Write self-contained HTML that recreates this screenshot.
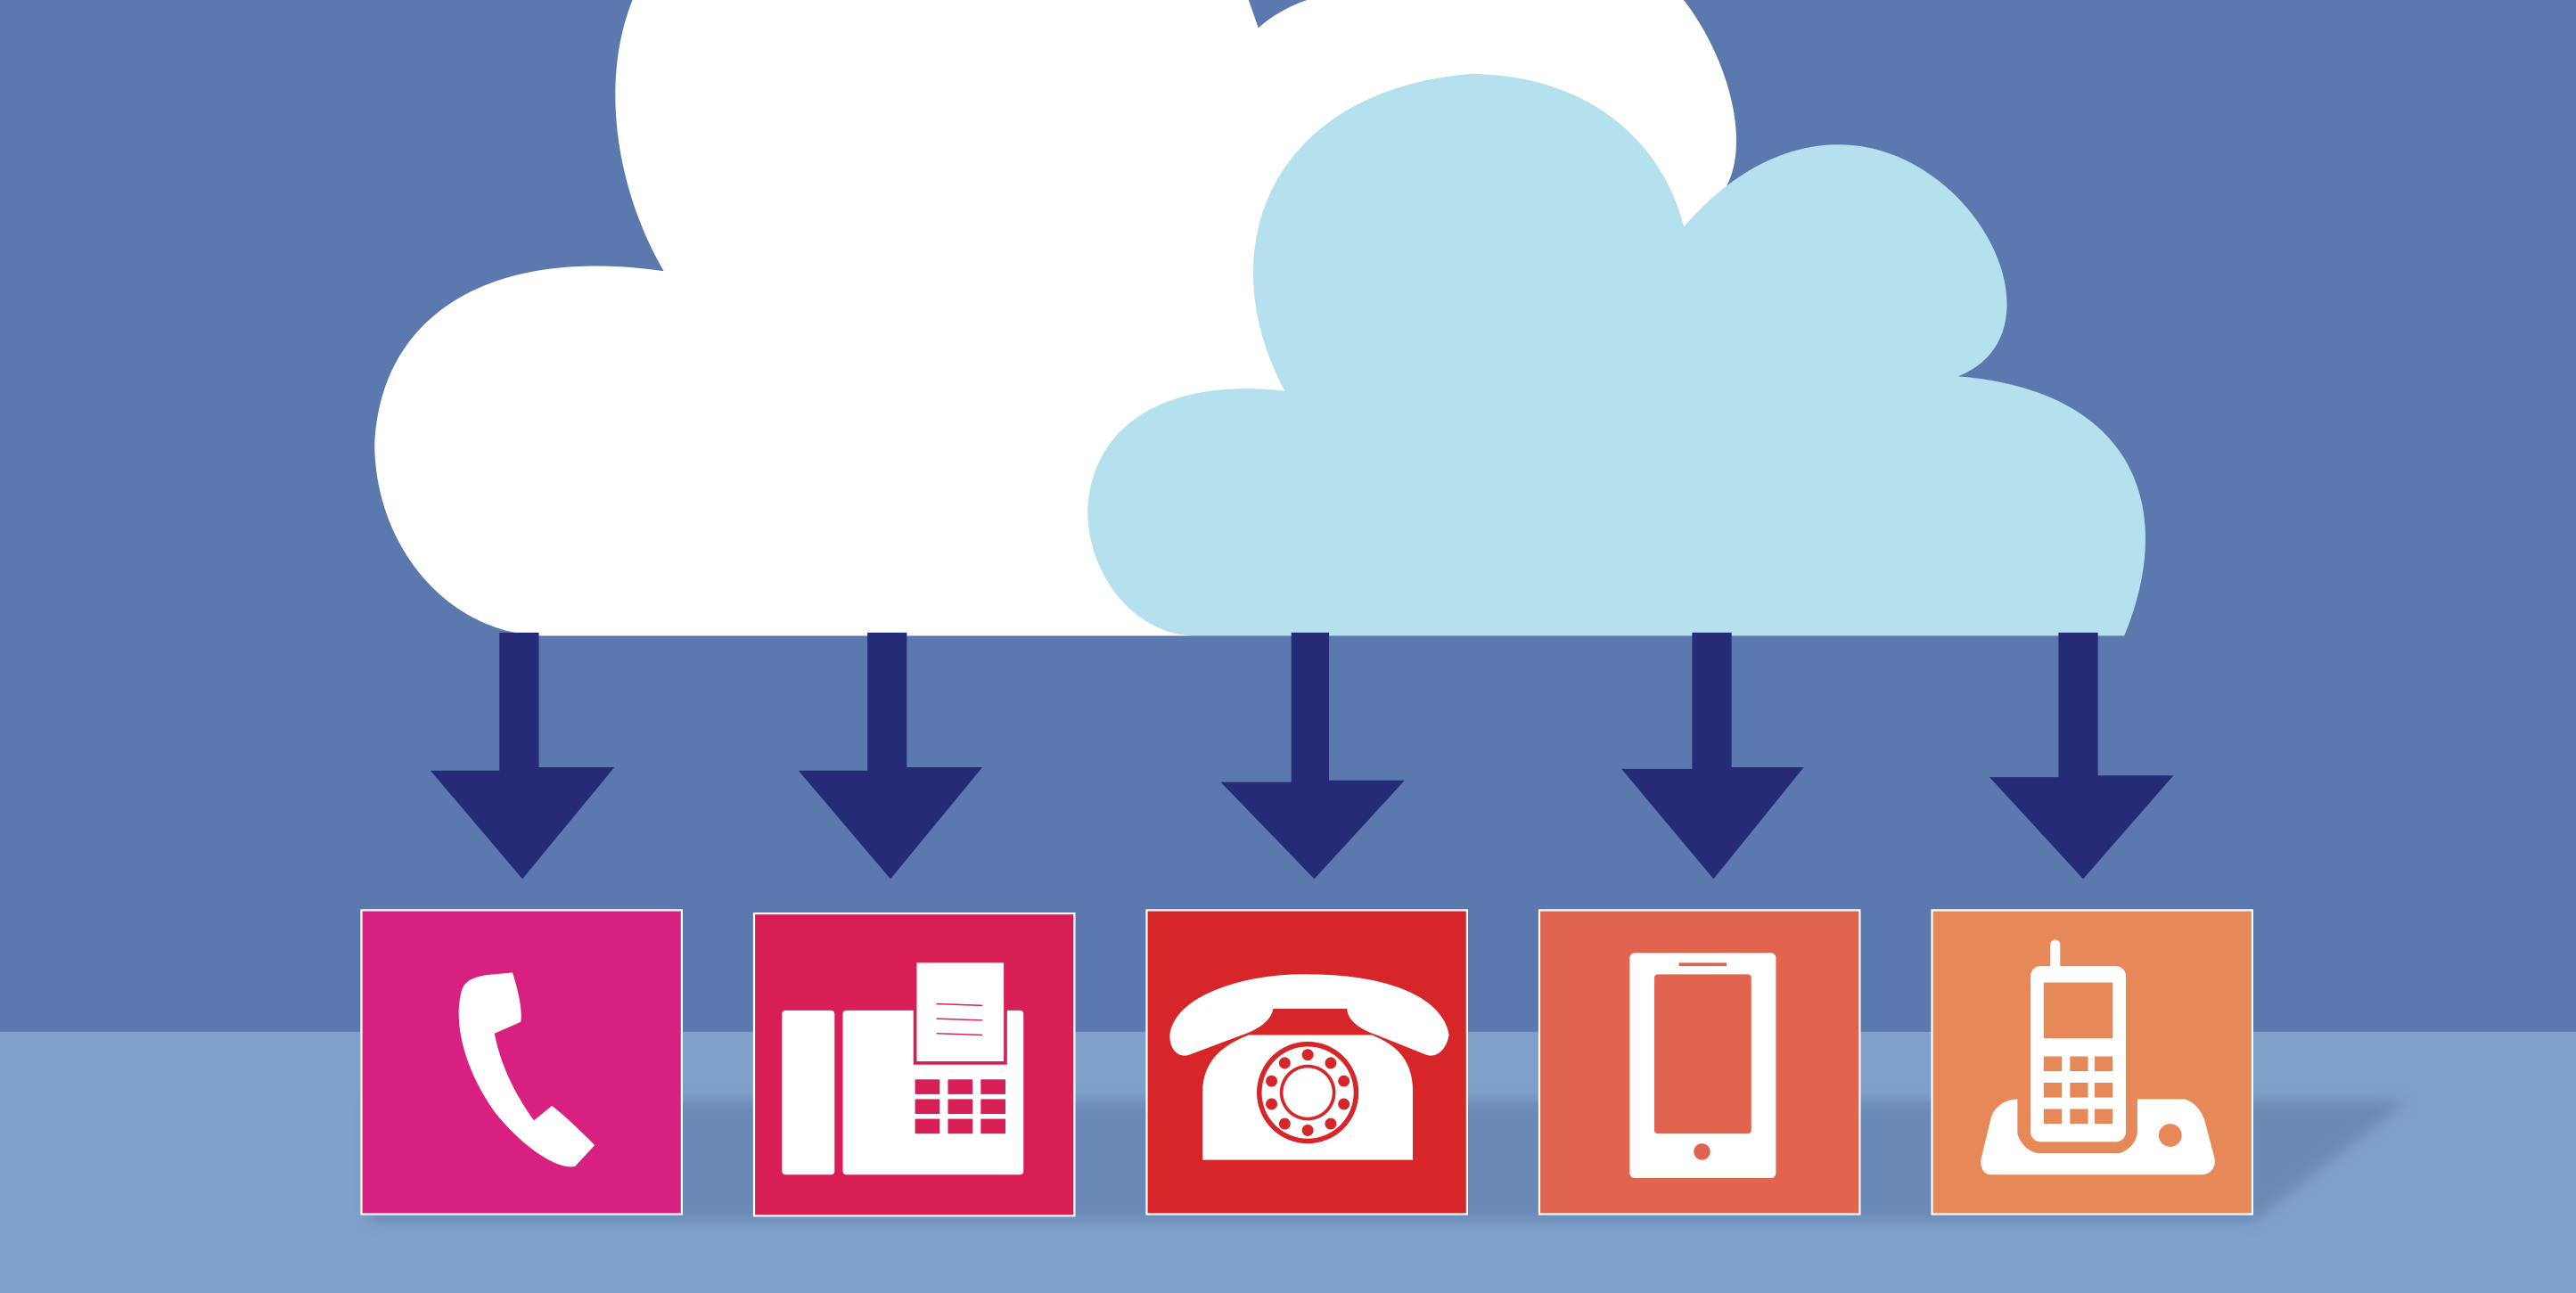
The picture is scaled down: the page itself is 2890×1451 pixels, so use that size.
<!DOCTYPE html>
<html><head><meta charset="utf-8"><style>html,body{margin:0;padding:0;width:2890px;height:1451px;overflow:hidden;background:#5b79ae}svg{display:block}</style></head>
<body>
<svg width="2890" height="1451" viewBox="0 0 1568 787" preserveAspectRatio="none" xmlns="http://www.w3.org/2000/svg">
<defs><filter id="b" x="-0.1" y="-0.5" width="1.2" height="2"><feGaussianBlur stdDeviation="4"/></filter></defs>
<rect x="0" y="0" width="1568" height="628" fill="#5b79ae"/>
<rect x="0" y="628" width="1568" height="159" fill="#7fa0c8"/>
<polygon points="225,670 1465,670 1372,743 225,743" fill="#6a89b6" filter="url(#b)"/>
<path d="M330,387 C270,385 228,330 228,270 C232,190 300,150 404,165 C375,115 365,50 385,0 L760,0 L766,17 C790,-5 830,-10 860,-5 L1025,0 C1055,40 1065,90 1050,115 L1050,387 Z" fill="#ffffff"/>
<path d="M725,387 C690,385 662,350 662,310 C665,255 715,230 782,238 C735,150 775,55 895,45 C960,45 1010,80 1025,138 C1075,80 1135,75 1180,110 C1225,145 1240,210 1192,229 C1300,238 1325,310 1293,387 Z" fill="#b5e0ed"/>
<g fill="#262b77">
<path d="M304,385 H328 V467 H374 L318,535 L262,469 H304 Z"/>
<path d="M528,385 H552 V467 H598 L542,535 L486,469 H528 Z"/>
<path d="M786,385 H809 V475 H855 L800,535 L743,476 H786 Z"/>
<path d="M1030,385 H1054 V467 H1098 L1043,535 L987,468 H1030 Z"/>
<path d="M1253,385 H1277 V472 H1323 L1268,535 L1211,473 H1253 Z"/>
</g>
<g stroke="#fff" stroke-width="1.2">
<rect x="220" y="554" width="195" height="185" fill="#d82080"/>
<rect x="459" y="556" width="195" height="184" fill="#d81f55"/>
<rect x="698" y="554" width="195" height="185" fill="#d62629"/>
<rect x="937" y="554" width="195" height="185" fill="#e0644e"/>
<rect x="1176" y="554" width="195" height="185" fill="#e68858"/>
</g>
<g fill="#fff">
<path d="M300,593 L312,592 C316,605 318,615 317,622 L308,626 L301,629 C305,650 315,668 325,682 L336,673 C346,681 355,690 362,697 L350,710 C340,712 320,700 302,678 C285,655 275,625 281,603 C283,596 290,594 300,593 Z"/>
<rect x="476" y="615" width="32" height="100" rx="2"/>
<rect x="513" y="615" width="110" height="100" rx="2"/>
<rect x="557" y="585" width="55" height="62" fill="#fff" stroke="#d81f55" stroke-width="2"/>
<g stroke="#d81f55" stroke-width="0.8"><line x1="570" y1="611" x2="598" y2="612"/><line x1="570" y1="620" x2="598" y2="621"/><line x1="570" y1="629" x2="598" y2="630"/></g>
<g fill="#d81f55"><rect x="557" y="657" width="15" height="9"/><rect x="577" y="657" width="15" height="9"/><rect x="597" y="657" width="15" height="9"/><rect x="557" y="669" width="15" height="9"/><rect x="577" y="669" width="15" height="9"/><rect x="597" y="669" width="15" height="9"/><rect x="557" y="681" width="15" height="9"/><rect x="577" y="681" width="15" height="9"/><rect x="597" y="681" width="15" height="9"/></g>
<path d="M712,630 C715,605 760,592 797,593 C840,593 878,605 882,630 C880,640 874,644 868,642 L838,630 C826,626 820,620 820,614 L775,614 C774,620 768,626 756,630 L724,642 C718,644 712,640 712,630 Z"/>
<path d="M760,630 L835,630 C850,636 860,645 860,665 L860,706 L732,706 L732,665 C732,645 745,636 760,630 Z"/>
<circle cx="796" cy="665" r="31" fill="#d62629"/>
<circle cx="796" cy="665" r="28" fill="#fff"/>
<circle cx="796" cy="665" r="17" fill="#d62629"/>
<circle cx="796" cy="665" r="15" fill="#fff"/>
<g fill="#d62629"><circle cx="796" cy="642" r="3.5"/><circle cx="810" cy="647" r="3.5"/><circle cx="818" cy="658" r="3.5"/><circle cx="818" cy="672" r="3.5"/><circle cx="810" cy="684" r="3.5"/><circle cx="796" cy="688" r="3.5"/><circle cx="782" cy="684" r="3.5"/><circle cx="774" cy="672" r="3.5"/><circle cx="774" cy="658" r="3.5"/><circle cx="782" cy="647" r="3.5"/></g>
<rect x="992" y="580" width="89" height="137" rx="3"/>
<rect x="1007" y="593" width="59" height="97" rx="2" fill="#e0644e"/>
<rect x="1022" y="586" width="29" height="2" fill="#e0644e"/>
<circle cx="1036" cy="701" r="5" fill="#e0644e"/>
<rect x="1236" y="588" width="58" height="107" rx="6"/>
<rect x="1248" y="572" width="6" height="20" rx="3"/>
<rect x="1244" y="598" width="42" height="34" fill="#e68858"/>
<g fill="#e68858"><rect x="1244" y="643" width="11" height="9"/><rect x="1260" y="643" width="11" height="9"/><rect x="1275" y="643" width="11" height="9"/><rect x="1244" y="659" width="11" height="9"/><rect x="1260" y="659" width="11" height="9"/><rect x="1275" y="659" width="11" height="9"/><rect x="1244" y="675" width="11" height="9"/><rect x="1260" y="675" width="11" height="9"/><rect x="1275" y="675" width="11" height="9"/></g>
<path d="M1206,705 L1212,680 C1214,674 1220,669 1228,669 L1228,690 C1230,697 1236,702 1242,702 L1290,702 C1296,700 1301,695 1301,688 L1301,669 L1330,669 C1336,671 1340,676 1342,682 L1348,705 C1349,710 1346,715 1340,715 L1212,715 C1207,715 1205,710 1206,705 Z"/>
<circle cx="1321" cy="691" r="7" fill="#e68858"/>
</g>
</svg>
</body></html>
